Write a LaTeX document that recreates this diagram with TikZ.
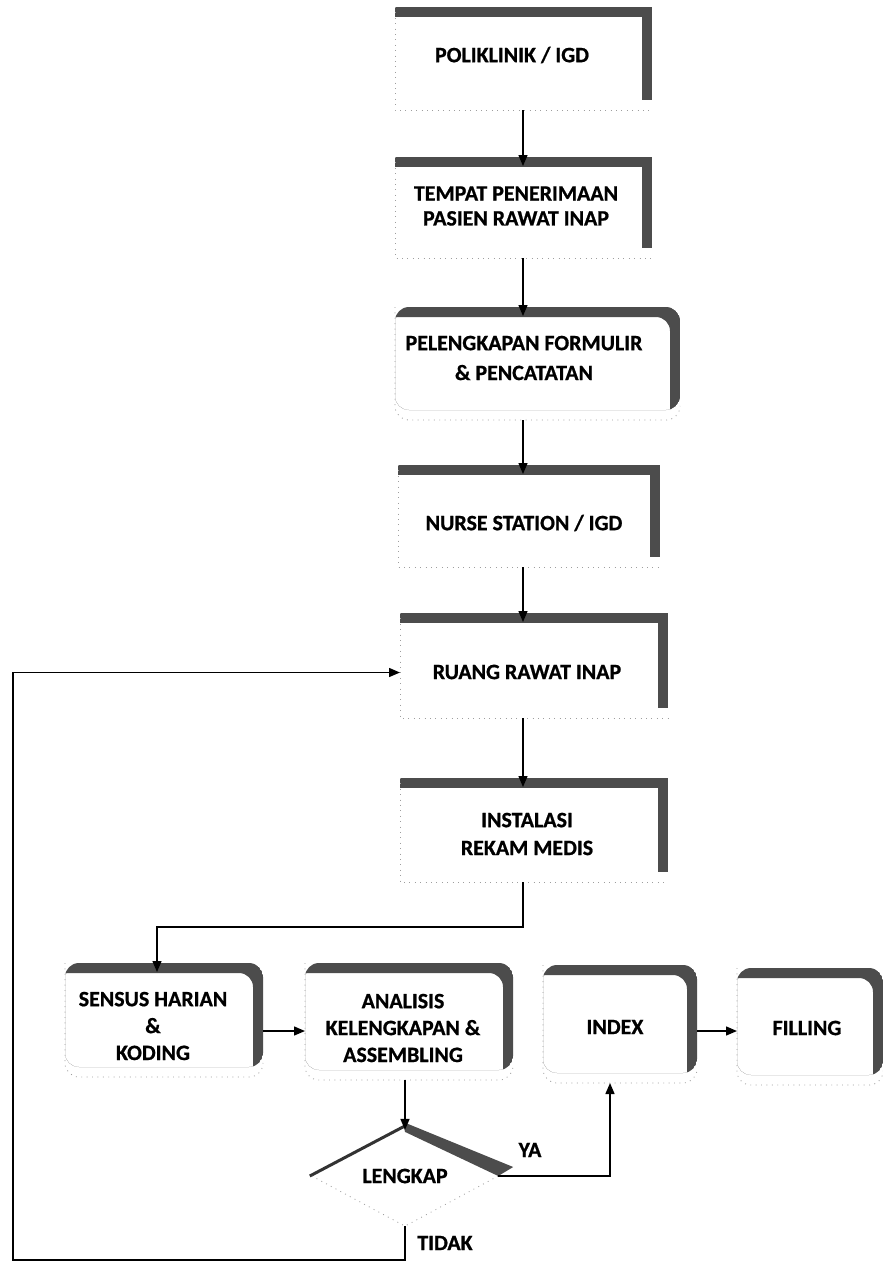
\documentclass[tikz,border=0pt]{standalone}
\usepackage{fontspec}
\setmainfont{Carlito}[BoldFeatures={FakeBold=0.8}]
\usetikzlibrary{arrows.meta,shapes.geometric,calc}

\tikzset{
  bandfill/.style={fill=black!70},
  faint/.style={draw=black!38, line width=0.8bp, dash pattern=on 0.9bp off 4.5bp},
  panel/.style 2 args={rectangle, anchor=north west, minimum width=#1, minimum height=#2,
                       inner sep=0pt, outer sep=0pt},
  txt/.style={font=\bfseries\fontsize{22}{#1}\selectfont, align=center, inner sep=0pt},
  txt/.default=27,
  conn/.style={draw=black, line width=1.4bp, -{Triangle[length=11bp,width=9bp]}},
}

% square panel: heavy band on top and right edge, faint dotted left and bottom
\newcommand\sqband[1]{%
  \fill[bandfill] (#1.north west) rectangle ($(#1.north east)+(0,10)$);
  \fill[bandfill] ($(#1.north east)+(-10,0)$) rectangle ($(#1.south east)+(0,-10)$);
  \draw[faint] (#1.north west) -- (#1.south west) -- (#1.south east);}

% rounded panel: same band, following rounded corners
\newcommand\rdband[1]{%
  \begin{scope}
    \clip[rounded corners=14bp] (#1.north west) rectangle ($(#1.south east)+(0,-10)$);
    \fill[bandfill, even odd rule, rounded corners=14bp]
      (#1.north west) rectangle ($(#1.south east)+(0,-10)$)
      ($(#1.north west)+(-10,10)$) rectangle ($(#1.south east)+(-10,10)$);
  \end{scope}
  \draw[faint, rounded corners=14bp] (#1.north west) -- (#1.south west) -- (#1.south east)
    -- ($(#1.south east)+(0,-14)$);}

\begin{document}
\begin{tikzpicture}[x=1bp,y=-1bp]
\useasboundingbox[fill=white] (0,0) rectangle (883,1262);

% ---- main column
\node[panel={257bp}{103bp}] (poli)  at (395,7)   {};
\node[panel={257bp}{101bp}] (tppri) at (395,157) {};
\node[panel={285bp}{113bp}] (form)  at (395,307) {};
\node[panel={262bp}{102bp}] (nurse) at (398,465) {};
\node[panel={268bp}{105bp}] (ruang) at (400,613) {};
\node[panel={268bp}{104bp}] (inst)  at (400,778) {};

% ---- bottom row
\node[panel={198bp}{114bp}] (sensus)   at (65,963)  {};
\node[panel={208bp}{117bp}] (analisis) at (305,963) {};
\node[panel={154bp}{118bp}] (index)    at (543,965) {};
\node[panel={146bp}{117bp}] (filling)  at (737,968) {};

% ---- decision
\node[diamond, minimum width=186bp, minimum height=86bp, inner sep=0pt, txt] (ld)
  at (405,1176) {LENGKAP};

\sqband{poli}
\sqband{tppri}
\rdband{form}
\sqband{nurse}
\sqband{ruang}
\sqband{inst}
\rdband{sensus}
\rdband{analisis}
\rdband{index}
\rdband{filling}

\fill[bandfill] ($(ld.north)+(-2,-4)$) -- ($(ld.east)+(15,-9)$) -- (ld.east)
  -- ($(ld.north)+(0,6)$) -- cycle;
\draw[line width=3bp, black!80] (ld.north) -- ($(ld.west)+(-2,0)$);
\draw[faint] (ld.west) -- (ld.south) -- (ld.east);

% ---- texts
\node[txt]    (tpoli)   at (512,55)  {POLIKLINIK / IGD};
\node[txt=25] (ttppri)  at (516,206) {TEMPAT PENERIMAAN\\PASIEN RAWAT INAP};
\node[txt=30] (tform)   at (524,358) {PELENGKAPAN FORMULIR\\\& PENCATATAN};
\node[txt]    (tnurse)  at (524,523) {NURSE STATION / IGD};
\node[txt]    (truang)  at (527,672) {RUANG RAWAT INAP};
\node[txt=28] (tinst)   at (527,834) {INSTALASI\\REKAM MEDIS};
\node[txt]    (tsensus) at (153,1026) {SENSUS HARIAN\\\&\\KODING};
\node[txt]    (tanal)   at (403,1028) {ANALISIS\\KELENGKAPAN \&\\ASSEMBLING};
\node[txt]    (tindex)  at (615,1027) {INDEX};
\node[txt]    (tfill)   at (807,1028) {FILLING};
\node[txt]    (ya)      at (530,1150) {YA};
\node[txt]    (tidak)   at (445,1243) {TIDAK};

% ---- connectors
\coordinate (col) at (523,0);
\coordinate (rowA) at (0,1031);
\coordinate (fbA) at (13,1260);

\draw[conn, shorten >=-9bp] (poli.south -| col)  -- (tppri.north -| col);
\draw[conn, shorten >=-9bp] (tppri.south -| col) -- (form.north -| col);
\draw[conn, shorten >=-9bp] (form.south -| col)  -- (nurse.north -| col);
\draw[conn, shorten >=-9bp] (nurse.south -| col) -- (ruang.north -| col);
\draw[conn, shorten >=-9bp] (ruang.south -| col) -- (inst.north -| col);
\draw[conn, shorten >=-9bp] (inst.south -| col) -- ++(0,45) -| ([xshift=-7bp]sensus.north);

\draw[conn] (sensus.east |- rowA) -- (analisis.west |- rowA);
\draw[conn] (index.east |- rowA)  -- (filling.west |- rowA);
\draw[conn, shorten >=-4bp] (analisis.south -| ld.north) -- (ld.north);
\draw[conn] (ld.east) -| ([xshift=-10bp]index.south);
\draw[conn] (ld.south) |- (fbA) |- ([yshift=-7bp]ruang.west);

\end{tikzpicture}
\end{document}
